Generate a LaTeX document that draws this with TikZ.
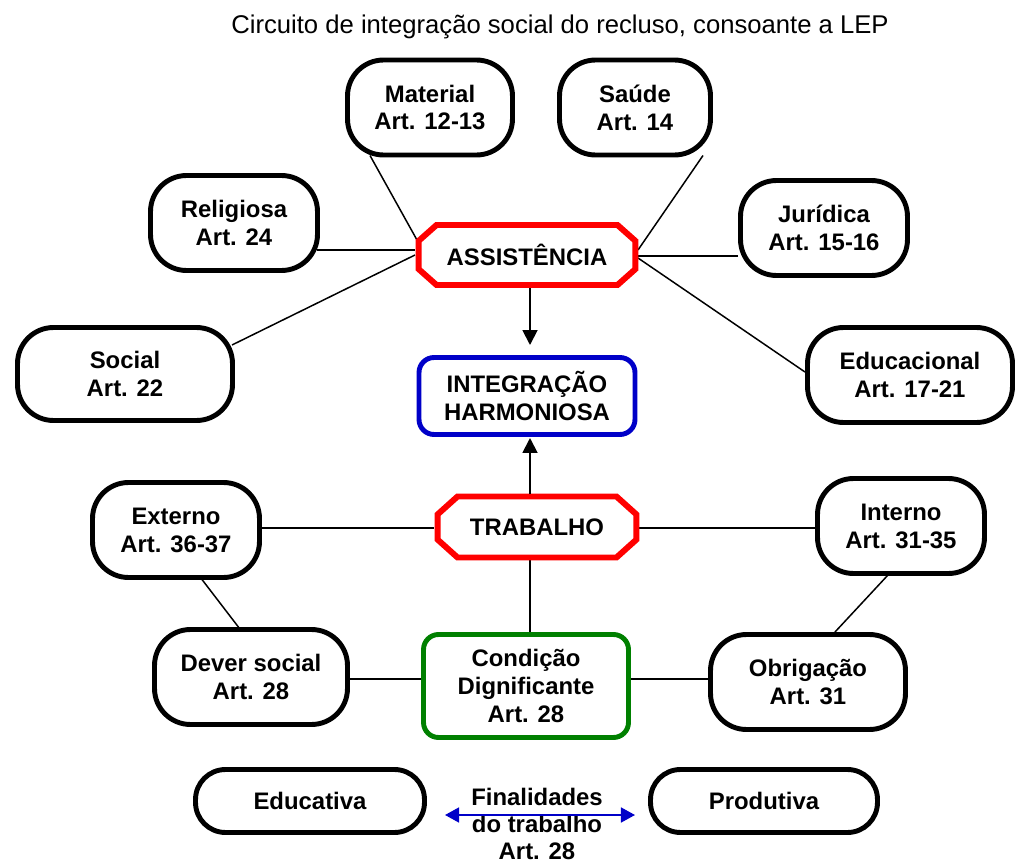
\documentclass[tikz,border=0pt]{standalone}
\usepackage{fontspec}
\setmainfont{Liberation Sans}
\usetikzlibrary{arrows.meta,calc,backgrounds}
\definecolor{rd}{RGB}{255,0,0}
\definecolor{bl}{RGB}{0,0,200}
\definecolor{gr}{RGB}{0,128,0}
\begin{document}
\begin{tikzpicture}[x=0.02cm,y=-0.02cm,
  lbl/.style={font=\fontsize{13.6}{15.9}\selectfont\bfseries, align=center, inner sep=0pt},
  pill/.style={lbl, draw=black, line width=2.8pt, rounded corners=0.72cm, fill=white, minimum height=1.9cm},
  flat/.style={pill, rounded corners=0.6cm, minimum height=1.26cm},
  octo/.style={lbl, outer sep=0pt},
  octoline/.style={draw=rd, line width=3.4pt, fill=white},
  boxc/.style={lbl, line width=2.8pt, fill=white, rounded corners=0.3cm},
  conn/.style={line width=0.85pt, black},
  arr/.style={line width=1.1pt, black, -{Triangle[length=8.5pt,width=8.5pt]}},
  barr/.style={line width=1.1pt, bl, {Triangle[length=8pt,width=8.5pt]}-{Triangle[length=8pt,width=8.5pt]}}
]
\useasboundingbox (0,0) rectangle (1015,862);

\node[anchor=base, font=\fontsize{14.6}{17}\selectfont] (title) at (560,33)
  {Circuito de integração social do recluso, consoante a LEP};

\node[pill, minimum width=3.30cm] (mat) at (430,107.5) {Material\\Art. 12-13};
\node[pill, minimum width=3.02cm] (sau) at (635,107.5) {Saúde\\Art. 14};
\node[pill, minimum width=3.34cm] (rel) at (234,223) {Religiosa\\Art. 24};
\node[pill, minimum width=3.34cm] (jur) at (824,228) {Jurídica\\Art. 15-16};
\node[pill, minimum width=4.30cm, minimum height=1.86cm] (soc) at (125,374) {Social\\Art. 22};
\node[pill, minimum width=4.10cm] (edu) at (910,375) {Educacional\\Art. 17-21};
\node[pill, minimum width=3.34cm] (ext) at (176,530) {Externo\\Art. 36-37};
\node[pill, minimum width=3.34cm] (inn) at (901,526) {Interno\\Art. 31-35};
\node[pill, minimum width=3.86cm] (dev) at (251,677) {Dever social\\Art. 28};
\node[pill, minimum width=3.90cm] (obr) at (808,682) {Obrigação\\Art. 31};
\node[flat, minimum width=4.58cm] (edc) at (310,801) {Educativa};
\node[flat, minimum width=4.54cm] (pro) at (764,801) {Produtiva};

\node[octo, minimum width=4.34cm, minimum height=1.20cm] (ass) at (527,255) {ASSISTÊNCIA};
\node[octo, minimum width=3.98cm, minimum height=1.22cm] (tra) at (537,527) {TRABALHO};
\node[boxc, draw=bl, minimum width=4.32cm, minimum height=1.54cm] (int) at (527,396) {INTEGRAÇÃO\\HARMONIOSA};
\node[boxc, draw=gr, minimum width=4.10cm, minimum height=2.06cm] (con) at (526,686) {Condição\\Dignificante\\Art. 28};

\node[lbl, font=\fontsize{13.6}{15.3}\selectfont\bfseries] (fin) at (537,824) {Finalidades\\do trabalho\\Art. 28};
\coordinate (fl) at (445,815);
\coordinate (fr) at (635,815);

\begin{scope}[on background layer]
\draw[conn] ($(mat)+(-60,48)$) -- ($(ass)+(-110,-15)$);
\draw[conn] ($(sau)+(68,48)$) -- ($(ass)+(111,-5)$);
\draw[conn] ($(rel)+(83,27)$) -- ($(ass)+(-112,-5)$);
\draw[conn] ($(soc)+(107,-29)$) -- ($(ass)+(-112,0)$);
\draw[conn] ($(jur)+(-86,28)$) -- ($(ass)+(111,1)$);
\draw[conn] ($(edu)+(-105,-3)$) -- ($(ass)+(111,3)$);
\draw[conn] ($(ext)+(86,-2)$) -- ($(tra)+(-103,1)$);
\draw[conn] ($(tra)+(102,1)$) -- ($(inn)+(-86,2)$);
\draw[conn] ($(tra)+(-7,33)$) -- ($(con)+(4,-54)$);
\draw[conn] ($(ext)+(21,43)$) -- ($(dev)+(-8,-44)$);
\draw[conn] ($(inn)+(-13,49)$) -- ($(obr)+(27,-50)$);
\draw[conn] ($(dev)+(99,2)$) -- ($(con)+(-103,-7)$);
\draw[conn] ($(con)+(105,-7)$) -- ($(obr)+(-100,-3)$);
\path[octoline] ($(ass.north west)+(18,0)$) -- ($(ass.north east)+(-18,0)$)
  -- ($(ass.north east)+(0,16)$) -- ($(ass.south east)+(0,-16)$)
  -- ($(ass.south east)+(-18,0)$) -- ($(ass.south west)+(18,0)$)
  -- ($(ass.south west)+(0,-16)$) -- ($(ass.north west)+(0,16)$) -- cycle;
\path[octoline] ($(tra.north west)+(20,0)$) -- ($(tra.north east)+(-20,0)$)
  -- ($(tra.north east)+(0,18)$) -- ($(tra.south east)+(0,-18)$)
  -- ($(tra.south east)+(-20,0)$) -- ($(tra.south west)+(20,0)$)
  -- ($(tra.south west)+(0,-18)$) -- ($(tra.north west)+(0,18)$) -- cycle;
\end{scope}

\draw[arr] ($(ass)+(3,33)$) -- ($(int)+(3,-51)$);
\draw[arr] ($(tra)+(-7,-33)$) -- ($(int)+(3,42)$);
\draw[barr] (fl) -- (fr);
\end{tikzpicture}
\end{document}
